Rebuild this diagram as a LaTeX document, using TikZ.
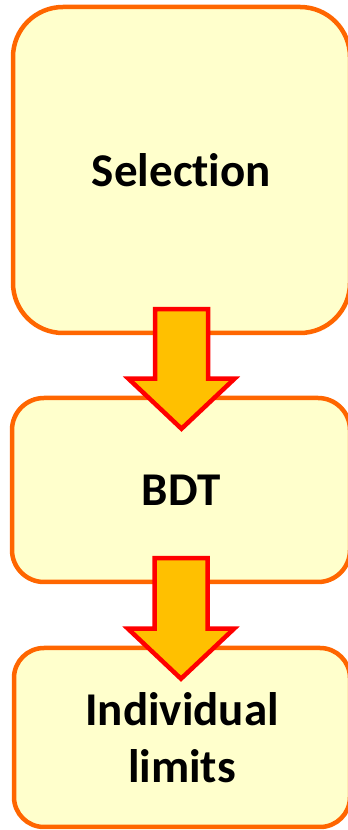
\documentclass[tikz,border=0pt]{standalone}
\usepackage{fontspec}
\setmainfont{Carlito}[Ligatures=NoCommon]
\usetikzlibrary{calc}
\definecolor{stagefill}{HTML}{FFFFCC}
\definecolor{stageline}{HTML}{FF6600}
\definecolor{arrowfill}{HTML}{FFC000}
\tikzset{
  stage/.style={draw = stageline, fill = stagefill, line width = 4.5pt, rounded corners = #1,
    inner sep = 0pt, align = center, font = \bfseries\fontsize{47}{57}\selectfont},
  flowarrow/.style={draw = red, fill = arrowfill, line width = 4.5pt, line join = miter}
}
% block arrow from the bottom of one stage into the top of the next
\newcommand\flowarrow[2]{%
  \draw [flowarrow] ($(#1.south)+(-26.5,26)$) -- ($(#1.south)+(26.5,26)$)
    -- ($(#1.south |- #2.north)+(26.5,17)$) -- ($(#1.south |- #2.north)+(53,17)$)
    -- ($(#1.south |- #2.north)+(0,-33)$) -- ($(#1.south |- #2.north)+(-53,17)$)
    -- ($(#1.south |- #2.north)+(-26.5,17)$) -- cycle;}
\begin{document}
\begin{tikzpicture}[x=1pt,y=1pt]
\clip (0,0) rectangle (348,830);
\node [stage = 50pt, minimum width = 337pt, minimum height = 326pt] (selection) at (181.5,660) {Selection};
\node [stage = 32pt, minimum width = 338pt, minimum height = 184pt] (bdt) at (181,340) {BDT};
\node [stage = 30pt, minimum width = 336pt, minimum height = 179pt] (limits) at (182,92.5) {Individual\\limits};
\flowarrow{selection}{bdt}
\flowarrow{bdt}{limits}
\end{tikzpicture}
\end{document}
